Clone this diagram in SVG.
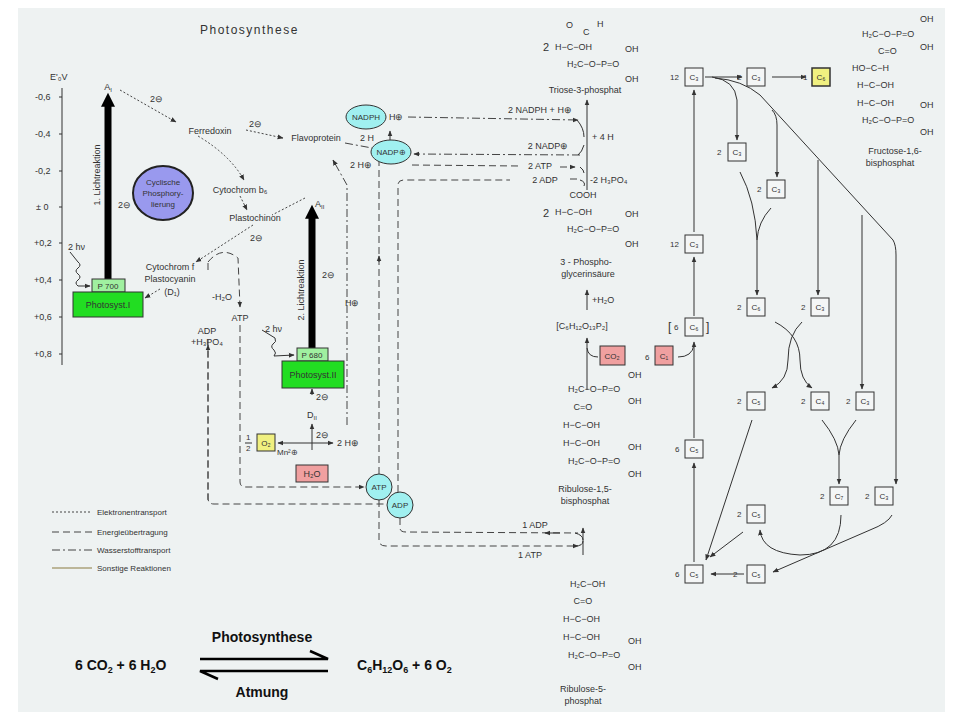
<svg xmlns="http://www.w3.org/2000/svg" width="960" height="720" viewBox="0 0 960 720">
<defs>
<marker id="ah" viewBox="0 0 10 10" refX="9" refY="5" markerWidth="6" markerHeight="6" orient="auto"><path d="M0,1 L10,5 L0,9 z" fill="#333"/></marker>
<marker id="big" viewBox="0 0 10 10" refX="2" refY="5" markerUnits="userSpaceOnUse" markerWidth="16" markerHeight="14" orient="auto"><path d="M0,0 L10,5 L0,10 z" fill="#000"/></marker>
<style>
text{font-family:"Liberation Sans",Arial,sans-serif;fill:#333}
.t{font-size:9px}
.s{font-size:8px}
.c{text-anchor:middle}
.dot{fill:none;stroke:#444;stroke-width:1;stroke-dasharray:2,2}
.dsh{fill:none;stroke:#444;stroke-width:1;stroke-dasharray:7,4}
.dd{fill:none;stroke:#444;stroke-width:1;stroke-dasharray:8,3,2,3}
.sol{fill:none;stroke:#333;stroke-width:1}
.bx{fill:#f4f6f6;stroke:#333;stroke-width:1}
.cy{fill:#a0f0f0;stroke:#333}
.b{font-family:"Liberation Sans",Arial,sans-serif;font-weight:bold;font-size:14px;fill:#111}
</style>
</defs>
<rect width="960" height="720" fill="#fff"/>
<rect x="18" y="8" width="927" height="704" fill="#eef2f2"/>
<text x="200" y="34" style="font-size:12px;letter-spacing:1.5px">Photosynthese</text>

<g id="axis">
<text x="50" y="80" class="t">E'₀V</text>
<line x1="62" y1="88" x2="62" y2="365" class="sol"/>
<g class="t">
<text x="35" y="100">-0,6</text><text x="35" y="137">-0,4</text><text x="35" y="174">-0,2</text><text x="36" y="210">± 0</text>
<text x="34" y="246">+0,2</text><text x="34" y="283">+0,4</text><text x="34" y="320">+0,6</text><text x="34" y="357">+0,8</text>
</g>
<path d="M59,97h3M59,134h3M59,171h3M59,207h3M59,243h3M59,280h3M59,317h3M59,354h3" class="sol"/>
</g>

<g id="connectors">
<path d="M120,90 L176,122" class="dot" marker-end="url(#ah)"/>
<path d="M246,130 L283,138" class="dot" marker-end="url(#ah)"/>
<path d="M198,136 Q230,155 244,180" class="dot" marker-end="url(#ah)"/>
<path d="M240,196 L247,210" class="dot" marker-end="url(#ah)"/>
<path d="M305,198 L272,215" class="dot"/>
<path d="M253,225 L196,262" class="dot" marker-end="url(#ah)"/>
<path d="M160,289 L145,298" class="dot" marker-end="url(#ah)"/>
<path d="M345,143 L372,148" class="dd"/>
<path d="M208,262 Q222,245 238,258 L240,307" class="dsh" marker-end="url(#ah)"/>
<path d="M208,263 L208,270" class="dsh"/>
<path d="M208,500 L208,345" class="dsh" marker-end="url(#ah)"/>
<path d="M240,325 L240,482 Q240,487 246,487 L364,487" class="dsh" marker-end="url(#ah)"/>
<path d="M208,340 L208,498 Q208,504 214,504 L385,504" class="dsh"/>
<path d="M379,474 L379,160" class="dsh"/>
<path d="M379,262 L379,256" class="sol" marker-end="url(#ah)"/>
<path d="M398,492 L398,185 Q398,180 404,180 L510,180 M570,179 L580,179" class="dsh"/>
<path d="M412,165 L520,166 M560,167 L575,167" class="dsh" marker-end="url(#ah)"/>
<path d="M379,500 L379,540 Q379,546 386,546 L578,546" class="dsh" marker-end="url(#ah)"/>
<path d="M400,518 L400,528 Q400,532 406,532 L578,533" class="dsh"/>
<path d="M560,533 L545,533" class="sol" marker-end="url(#ah)"/>
<path d="M347,425 L347,185 L333,160" class="dd" marker-end="url(#ah)"/>
<path d="M408,117 L578,120" class="dd" marker-end="url(#ah)"/>
<path d="M580,155 L414,154" class="dd" marker-end="url(#ah)"/>
<path d="M390,140 L390,131" class="sol" marker-end="url(#ah)"/>
<path d="M577,120 Q584,128 584,137" class="sol"/>
<path d="M584,145 Q582,152 578,155" class="sol"/>
<path d="M580,167 Q584,170 584,173" class="sol"/>
<path d="M580,180 Q586,182 584,186" class="sol"/>
<path d="M587,190 L587,100" class="sol" marker-end="url(#ah)"/>
<path d="M587,310 L587,290" class="sol" marker-end="url(#ah)"/>
<path d="M587,390 L587,338" class="sol" marker-end="url(#ah)"/>
<path d="M598,357 Q588,357 587,348" class="sol"/>
<path d="M583,555 L583,528" class="sol" marker-end="url(#ah)"/>
<path d="M575,533 Q583,535 583,540" class="sol"/>
<path d="M575,546 Q583,546 583,541" class="sol"/>
<path d="M312,395 L312,389" class="sol" marker-end="url(#ah)"/>
<path d="M312,450 L312,424" class="sol" marker-end="url(#ah)"/>
<path d="M312,443 L278,443" class="sol" marker-end="url(#ah)"/>
<path d="M312,443 L333,443" class="sol" marker-end="url(#ah)"/>
<path d="M70,252 L78,262 q4,3 0,6 q-4,3 0,6 q4,3 0,6 q-4,3 0,6 L90,286" class="sol" marker-end="url(#ah)"/>
<path d="M262,330 L275,338 q2,4 -2,6 q-3,3 1,6 q3,3 0,6 L294,355" class="sol" marker-end="url(#ah)"/>
<path d="M705,77 L742,77" class="sol" marker-end="url(#ah)"/>
<path d="M772,77 L806,77" class="sol" marker-end="url(#ah)"/>
<path d="M712,77 Q735,80 737,100 L737,140" class="sol" marker-end="url(#ah)"/>
<path d="M715,78 Q742,80 760,95 L893,240 Q896,245 896,255 L896,484" class="sol" marker-end="url(#ah)"/>
<path d="M772,110 Q777,115 777,125 L777,177" class="sol" marker-end="url(#ah)"/>
<path d="M818,160 L818,295" class="sol" marker-end="url(#ah)"/>
<path d="M862,215 L862,389" class="sol" marker-end="url(#ah)"/>
<path d="M740,172 Q755,200 757,240 L757,295" class="sol" marker-end="url(#ah)"/>
<path d="M771,208 Q758,222 757,240" class="sol"/>
<path d="M775,322 Q800,335 800,360 Q800,380 812,388" class="sol" marker-end="url(#ah)"/>
<path d="M802,322 Q788,335 788,360 Q788,380 772,388" class="sol" marker-end="url(#ah)"/>
<path d="M822,420 Q838,440 839,455 L839,484" class="sol" marker-end="url(#ah)"/>
<path d="M856,420 Q840,440 839,455" class="sol"/>
<path d="M752,420 L706,560" class="sol" marker-end="url(#ah)"/>
<path d="M743,532 L710,557" class="sol" marker-end="url(#ah)"/>
<path d="M744,574 L711,574" class="sol" marker-end="url(#ah)"/>
<path d="M841,515 Q841,555 800,555 Q762,553 760,530" class="sol" marker-end="url(#ah)"/>
<path d="M892,515 Q888,523 870,530 L773,572" class="sol" marker-end="url(#ah)"/>
<path d="M694,562 L694,463" class="sol" marker-end="url(#ah)"/>
<path d="M694,438 L694,342" class="sol" marker-end="url(#ah)"/>
<path d="M694,316 L694,257" class="sol" marker-end="url(#ah)"/>
<path d="M694,232 L694,90" class="sol" marker-end="url(#ah)"/>
<path d="M678,357 Q692,357 694,345" class="sol"/>
</g>

<g id="lichtreaktion1">
<line x1="108" y1="280" x2="108" y2="104" stroke="#000" stroke-width="7" marker-end="url(#big)"/>
<text x="108" y="90" class="t c">A<tspan font-size="6" dy="2">I</tspan></text>
<text transform="translate(100,175) rotate(-90)" class="t c">1. Lichtreaktion</text>
<text x="118" y="208" class="t">2⊖</text>
</g>
<g id="p700"><rect x="92" y="279" width="33" height="13" fill="#a0f0a0" stroke="#333"/><text x="108" y="289" class="s c">P 700</text></g>
<g id="ps1"><rect x="73" y="292" width="70" height="25" fill="#22dd22" stroke="#333"/><text x="108" y="308" class="t c">Photosyst.I</text></g>
<g id="cyclic"><ellipse cx="163" cy="193" rx="30" ry="27" fill="#9999ee" stroke="#222" stroke-width="2"/>
<text x="163" y="185" class="s c">Cyclische</text><text x="163" y="196" class="s c">Phosphory-</text><text x="163" y="207" class="s c">lierung</text></g>
<text x="68" y="250" class="t">2 hν</text>
<text x="150" y="102" class="t">2⊖</text>
<g id="ferredoxin"><text x="210" y="134" class="t c">Ferredoxin</text></g>
<text x="249" y="127" class="t">2⊖</text>
<g id="flavoprotein"><text x="316" y="141" class="t c">Flavoprotein</text></g>
<g id="cytb6"><text x="240" y="193" class="t c">Cytochrom b₆</text></g>
<g id="plastochinon"><text x="255" y="221" class="t c">Plastochinon</text></g>
<text x="250" y="241" class="t">2⊖</text>
<g id="cytf"><text x="170" y="270" class="t c">Cytochrom f</text><text x="170" y="282" class="t c">Plastocyanin</text><text x="172" y="295" class="t c">(D₁)</text></g>
<text x="212" y="300" class="t">-H₂O</text>
<text x="240" y="321" class="t c">ATP</text>
<text x="207" y="334" class="t c">ADP</text><text x="207" y="345" class="t c">+H₃PO₄</text>

<g id="lichtreaktion2">
<line x1="312" y1="348" x2="312" y2="216" stroke="#000" stroke-width="7" marker-end="url(#big)"/>
<text x="315" y="207" class="t">A<tspan font-size="6" dy="2">II</tspan></text>
<text transform="translate(304,290) rotate(-90)" class="t c">2. Lichtreaktion</text>
<text x="322" y="278" class="t">2⊖</text>
</g>
<text x="265" y="332" class="t">2 hν</text>
<g id="p680"><rect x="297" y="348" width="31" height="13" fill="#a0f0a0" stroke="#333"/><text x="312" y="358" class="s c">P 680</text></g>
<g id="ps2"><rect x="282" y="361" width="62" height="27" fill="#22dd22" stroke="#333"/><text x="313" y="378" class="t c">Photosyst.II</text></g>
<text x="316" y="400" class="t">2⊖</text>
<text x="312" y="418" class="t c">D<tspan font-size="6" dy="2">II</tspan></text>
<text x="316" y="438" class="t">2⊖</text>
<text x="277" y="455" class="s">Mn²⊕</text>
<text x="337" y="446" class="t">2 H⊕</text>
<text x="246" y="440" class="s">1</text><text x="246" y="451" class="s">2</text><line x1="245" y1="443" x2="252" y2="443" class="sol"/>
<g id="o2"><rect x="257" y="434" width="18" height="17" fill="#f0f080" stroke="#333"/><text x="266" y="446" class="s c">O₂</text></g>
<g id="h2o"><rect x="296" y="465" width="32" height="17" fill="#f0a0a0" stroke="#333"/><text x="312" y="477" class="t c">H₂O</text></g>
<text x="345" y="306" class="t">H⊕</text>
<text x="350" y="168" class="t">2 H⊕</text>
<text x="360" y="141" class="t">2 H</text>

<g id="nadph"><ellipse cx="366" cy="117" rx="20" ry="12" class="cy"/><text x="366" y="120" class="s c">NADPH</text></g>
<text x="389" y="120" class="t">H⊕</text>
<g id="nadp"><ellipse cx="391" cy="152" rx="20" ry="12" class="cy"/><text x="391" y="155" class="s c">NADP⊕</text></g>
<g id="atp"><circle cx="379" cy="487" r="13" class="cy"/><text x="379" y="490" class="s c">ATP</text></g>
<g id="adp"><circle cx="400" cy="505" r="13" class="cy"/><text x="400" y="508" class="s c">ADP</text></g>

<text x="540" y="113" class="t c">2 NADPH + H⊕</text>
<text x="548" y="149" class="t c">2 NADP⊕</text>
<text x="540" y="169" class="t c">2 ATP</text>
<text x="545" y="183" class="t c">2 ADP</text>
<text x="592" y="140" class="t">+ 4 H</text>
<text x="590" y="183" class="t">-2 H₃PO₄</text>
<text x="535" y="528" class="t c">1 ADP</text>
<text x="530" y="558" class="t c">1 ATP</text>

<g id="triose" class="t">
<text x="566" y="28">O</text><text x="597" y="27">H</text><text x="583" y="35">C</text>
<text x="543" y="51" font-size="11">2</text><text x="555" y="50">H−C−OH</text>
<text x="567" y="67">H₂C−O−P=O</text><text x="625" y="52">OH</text><text x="625" y="82">OH</text>
<text x="585" y="93" class="c">Triose-3-phosphat</text>
</g>
<g id="pga" class="t">
<text x="583" y="198" class="c">COOH</text>
<text x="543" y="217" font-size="11">2</text><text x="555" y="215">H−C−OH</text>
<text x="567" y="232">H₂C−O−P=O</text><text x="625" y="217">OH</text><text x="625" y="247">OH</text>
<text x="586" y="265" class="c">3 - Phospho-</text><text x="588" y="277" class="c">glycerinsäure</text>
<text x="592" y="303">+H₂O</text>
<text x="582" y="329" class="c">[C₆H₁₂O₁₃P₂]</text>
</g>
<g id="co2"><rect x="600" y="346" width="25" height="19" fill="#f0a0a0" stroke="#333"/><text x="612" y="359" class="s c">CO₂</text></g>
<g id="rubp" class="t">
<text x="568" y="392">H₂C−O−P=O</text><text x="628" y="378">OH</text><text x="628" y="404">OH</text>
<text x="583" y="410" class="c">C=O</text>
<text x="563" y="428">H−C−OH</text>
<text x="563" y="446">H−C−OH</text>
<text x="568" y="464">H₂C−O−P=O</text><text x="628" y="450">OH</text><text x="628" y="477">OH</text>
<text x="585" y="492" class="c">Ribulose-1,5-</text><text x="585" y="504" class="c">bisphosphat</text>
</g>
<g id="ru5p" class="t">
<text x="570" y="587">H₂C−OH</text>
<text x="583" y="604" class="c">C=O</text>
<text x="563" y="622">H−C−OH</text>
<text x="563" y="640">H−C−OH</text>
<text x="568" y="658">H₂C−O−P=O</text><text x="628" y="644">OH</text><text x="628" y="670">OH</text>
<text x="583" y="692" class="c">Ribulose-5-</text><text x="583" y="704" class="c">phosphat</text>
</g>
<g id="fructose" class="t">
<text x="862" y="37">H₂C−O−P=O</text><text x="920" y="22">OH</text><text x="920" y="50">OH</text>
<text x="878" y="54">C=O</text>
<text x="852" y="71">HO−C−H</text>
<text x="857" y="88">H−C−OH</text>
<text x="857" y="106">H−C−OH</text>
<text x="862" y="123">H₂C−O−P=O</text><text x="920" y="108">OH</text><text x="920" y="135">OH</text>
<text x="895" y="154" class="c">Fructose-1,6-</text><text x="890" y="166" class="c">bisphosphat</text>
</g>

<g id="calvin" class="s">
<g id="c3a"><text x="670" y="80">12</text><rect x="685" y="68" width="18" height="18" class="bx"/><text x="694" y="80" class="c">C₃</text></g>
<g id="c3b"><text x="737" y="80">2</text><rect x="747" y="68" width="18" height="18" class="bx"/><text x="756" y="80" class="c">C₃</text></g>
<g id="c6a"><text x="803" y="80">1</text><rect x="812" y="68" width="18" height="18" fill="#f0f080" stroke="#333" stroke-width="1.5"/><text x="821" y="80" class="c">C₆</text></g>
<g id="c3c"><text x="717" y="155">2</text><rect x="728" y="143" width="18" height="18" class="bx"/><text x="737" y="155" class="c">C₃</text></g>
<g id="c3d"><text x="757" y="192">2</text><rect x="767" y="180" width="18" height="18" class="bx"/><text x="776" y="192" class="c">C₃</text></g>
<g id="c3e"><text x="670" y="247">12</text><rect x="685" y="235" width="18" height="18" class="bx"/><text x="694" y="247" class="c">C₃</text></g>
<g id="c6b"><text x="668" y="331" font-size="12">[</text><text x="674" y="330">6</text><rect x="685" y="318" width="18" height="18" class="bx"/><text x="694" y="330" class="c">C₆</text><text x="706" y="331" font-size="12">]</text></g>
<g id="c1"><text x="645" y="360">6</text><rect x="655" y="346" width="18" height="19" fill="#f0a0a0" stroke="#333"/><text x="664" y="359" class="c">C₁</text></g>
<g id="c6c"><text x="737" y="310">2</text><rect x="747" y="298" width="18" height="18" class="bx"/><text x="756" y="310" class="c">C₆</text></g>
<g id="c3f"><text x="801" y="310">2</text><rect x="811" y="298" width="18" height="18" class="bx"/><text x="820" y="310" class="c">C₃</text></g>
<g id="c5a"><text x="737" y="404">2</text><rect x="747" y="392" width="18" height="18" class="bx"/><text x="756" y="404" class="c">C₅</text></g>
<g id="c4"><text x="801" y="404">2</text><rect x="811" y="392" width="18" height="18" class="bx"/><text x="820" y="404" class="c">C₄</text></g>
<g id="c3g"><text x="846" y="404">2</text><rect x="856" y="392" width="18" height="18" class="bx"/><text x="865" y="404" class="c">C₃</text></g>
<g id="c5b"><text x="675" y="452">6</text><rect x="685" y="440" width="18" height="18" class="bx"/><text x="694" y="452" class="c">C₅</text></g>
<g id="c7"><text x="820" y="499">2</text><rect x="830" y="487" width="18" height="18" class="bx"/><text x="839" y="499" class="c">C₇</text></g>
<g id="c3h"><text x="865" y="499">2</text><rect x="875" y="487" width="18" height="18" class="bx"/><text x="884" y="499" class="c">C₃</text></g>
<g id="c5c"><text x="737" y="517">2</text><rect x="747" y="505" width="18" height="18" class="bx"/><text x="756" y="517" class="c">C₅</text></g>
<g id="c5d"><text x="675" y="577">6</text><rect x="685" y="565" width="18" height="18" class="bx"/><text x="694" y="577" class="c">C₅</text></g>
<g id="c5e"><text x="733" y="577">2</text><rect x="747" y="565" width="18" height="18" class="bx"/><text x="756" y="577" class="c">C₅</text></g>
</g>

<g id="legend">
<line x1="52" y1="512" x2="92" y2="512" class="dot"/><text x="97" y="515" class="s">Elektronentransport</text>
<line x1="52" y1="532" x2="92" y2="532" class="dsh"/><text x="97" y="535" class="s">Energieübertragung</text>
<line x1="52" y1="550" x2="92" y2="550" class="dd"/><text x="97" y="553" class="s">Wasserstofftransport</text>
<line x1="52" y1="568" x2="92" y2="568" stroke="#8a7a40"/><text x="97" y="571" class="s">Sonstige Reaktionen</text>
</g>

<g id="equation">
<text x="262" y="642" class="b" text-anchor="middle">Photosynthese</text>
<text x="75" y="670" class="b">6 CO<tspan font-size="9" dy="3">2</tspan><tspan dy="-3"> + 6 H</tspan><tspan font-size="9" dy="3">2</tspan><tspan dy="-3">O</tspan></text>
<text x="357" y="670" class="b">C<tspan font-size="9" dy="3">6</tspan><tspan dy="-3">H</tspan><tspan font-size="9" dy="3">12</tspan><tspan dy="-3">O</tspan><tspan font-size="9" dy="3">6</tspan><tspan dy="-3"> + 6 O</tspan><tspan font-size="9" dy="3">2</tspan></text>
<text x="262" y="697" class="b" text-anchor="middle">Atmung</text>
<path d="M200,659 H328 L310,651" fill="none" stroke="#000" stroke-width="2.5"/>
<path d="M328,671 H200 L218,679" fill="none" stroke="#000" stroke-width="2.5"/>
</g>
</svg>
